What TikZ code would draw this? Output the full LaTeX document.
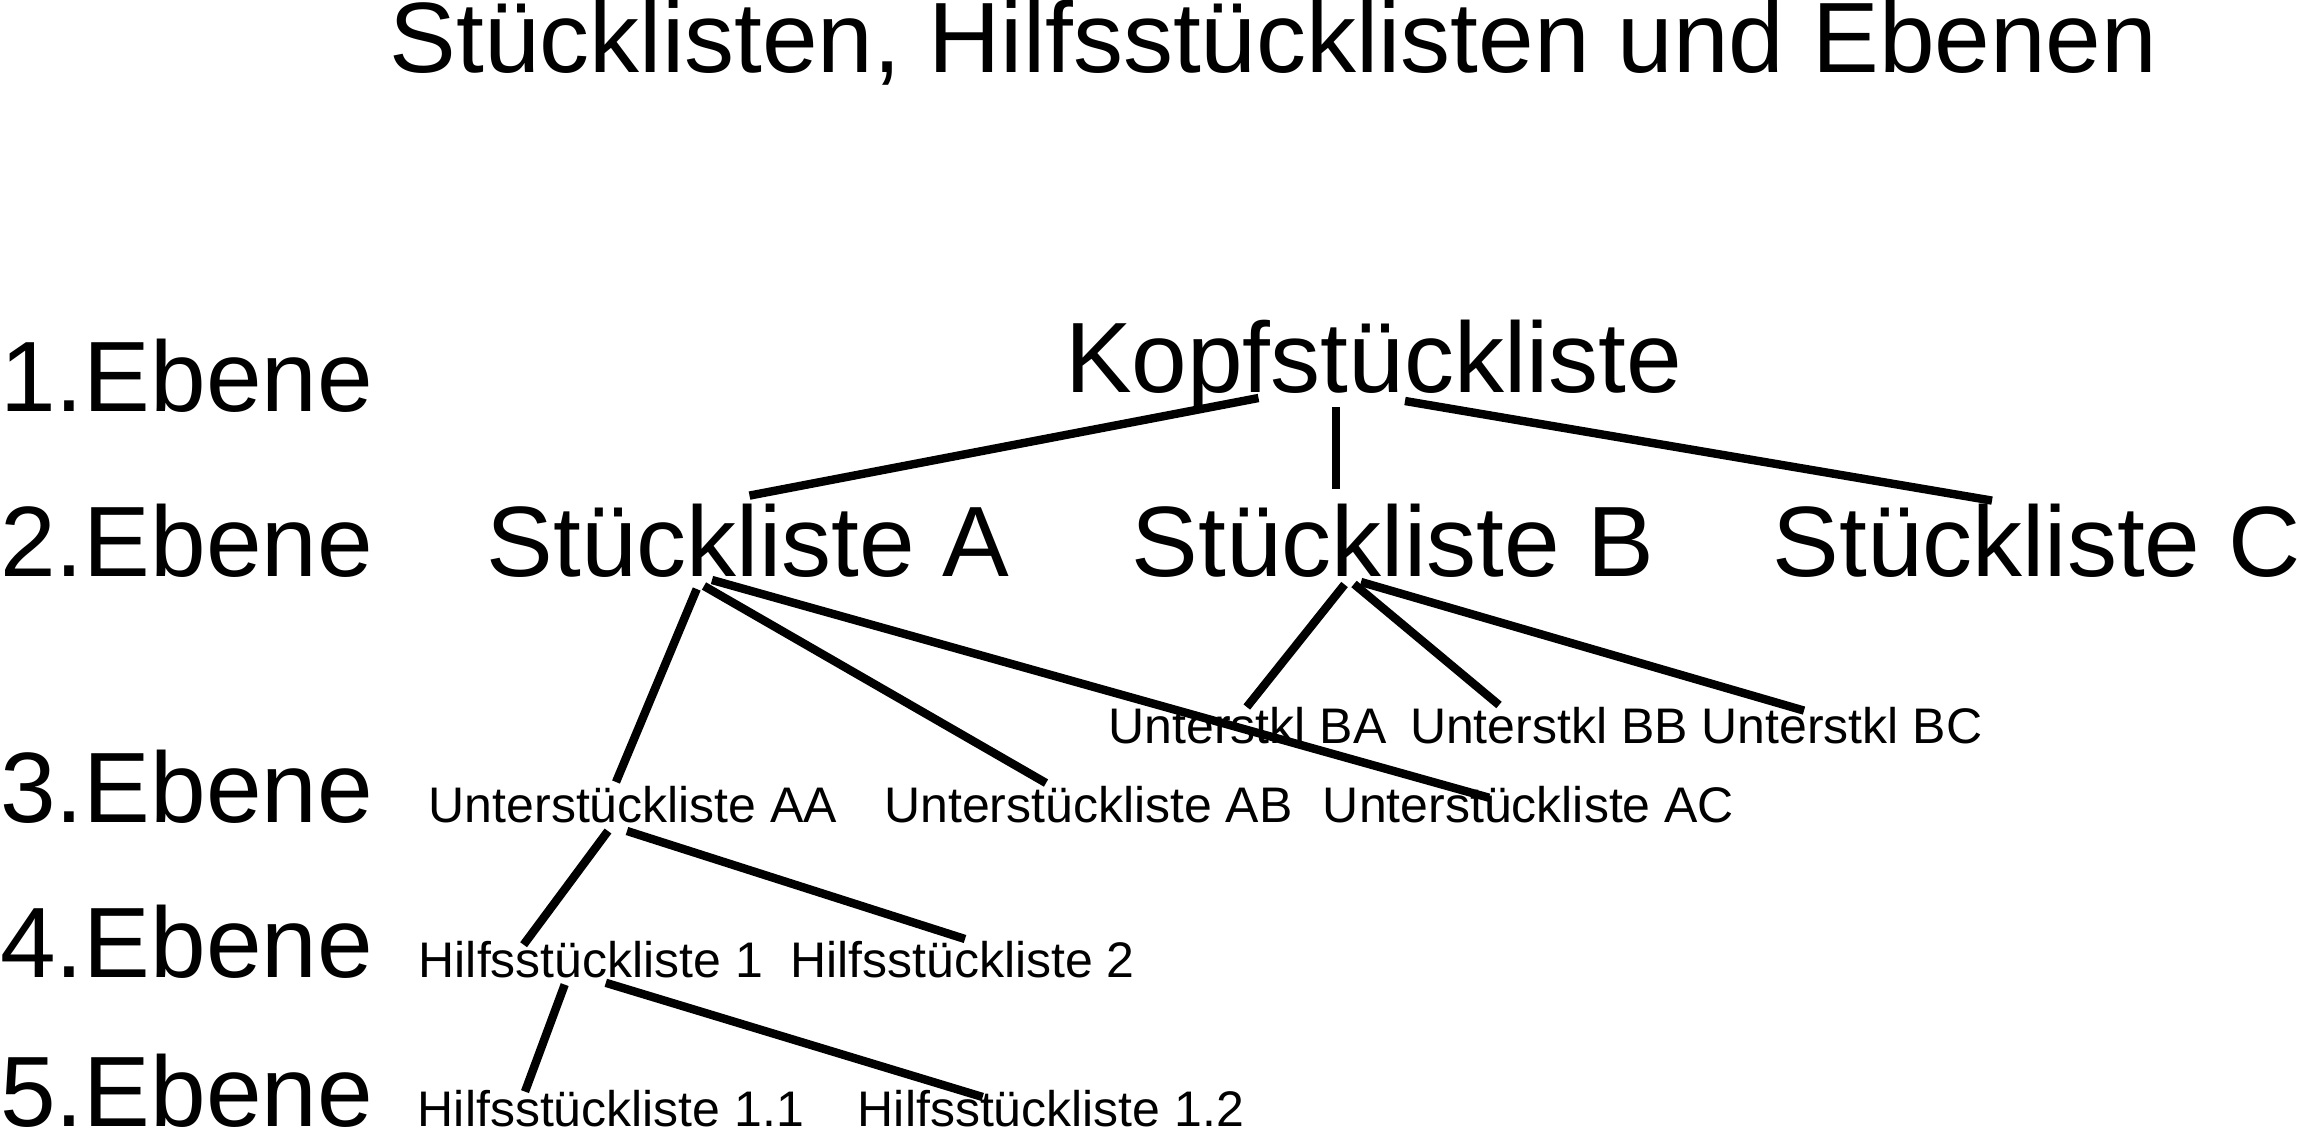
\documentclass[tikz,border=0pt]{standalone}
\usepackage{fontspec}
\setmainfont{Liberation Sans}
\begin{document}
\begin{tikzpicture}[x=0.5pt,y=-0.5pt,
  big/.style={font=\fontsize{50}{60}\selectfont, inner sep=0pt, anchor=base},
  small/.style={font=\fontsize{25}{30}\selectfont, inner sep=0pt, anchor=base},
  level/.style={big, anchor=base west},
  link/.style={line width=4.2pt, line cap=butt}]
\useasboundingbox[fill=white] (0,0) rectangle (2300,1129);
% title
\node[big] (title) at (1273.5,73) {Stücklisten, Hilfsstücklisten und Ebenen};
% level labels
\node[level] (e1) at (0,411) {1.Ebene};
\node[level] (e2) at (0,576) {2.Ebene};
\node[level] (e3) at (0,822) {3.Ebene};
\node[level] (e4) at (0,977) {4.Ebene};
\node[level] (e5) at (0,1126) {5.Ebene};
% tree nodes
\node[big] (K) at (1373.5,392) {Kopfstückliste};
\node[big] (A) at (748,576) {Stückliste A};
\node[big] (B) at (1393,576) {Stückliste B};
\node[big] (C) at (2036.5,576) {Stückliste C};
\node[small] (BA) at (1247.5,743) {Unterstkl BA};
\node[small] (BB) at (1549,743) {Unterstkl BB};
\node[small] (BC) at (1842,743) {Unterstkl BC};
\node[small] (AA) at (633,822) {Unterstückliste AA};
\node[small] (AB) at (1088.5,822) {Unterstückliste AB};
\node[small] (AC) at (1528.5,822) {Unterstückliste AC};
\node[small] (H1) at (591,977) {Hilfsstückliste 1};
\node[small] (H2) at (962.5,977) {Hilfsstückliste 2};
\node[small] (H11) at (611,1126) {Hilfsstückliste 1.1};
\node[small] (H12) at (1051,1126) {Hilfsstückliste 1.2};
% connectors
\draw[link] ([shift={(-115,6)}]K.base) -- ([shift={(1.5,-80.4)}]A.base);
\draw[link] ([shift={(-37.5,15)}]K.base) -- ([shift={(-57,-87)}]B.base);
\draw[link] ([shift={(31.5,9)}]K.base) -- ([shift={(-44.5,-75.4)}]C.base);
\draw[link] ([shift={(-51.3,13)}]A.base) -- ([shift={(-17,-40)}]AA.base);
\draw[link] ([shift={(-44,10)}]A.base) -- ([shift={(-42.5,-39)}]AB.base);
\draw[link] ([shift={(-36,4)}]A.base) -- ([shift={(-39.5,-24.3)}]AC.base);
\draw[link] ([shift={(-48.5,8.5)}]B.base) -- ([shift={(-0.7,-36)}]BA.base);
\draw[link] ([shift={(-39,8)}]B.base) -- ([shift={(-50,-38)}]BB.base);
\draw[link] ([shift={(-32,6)}]B.base) -- ([shift={(-38,-32.4)}]BC.base);
\draw[link] ([shift={(-25,9)}]AA.base) -- ([shift={(-67.4,-32.3)}]H1.base);
\draw[link] ([shift={(-6,9)}]AA.base) -- ([shift={(2.5,-38)}]H2.base);
\draw[link] ([shift={(-26.3,7.6)}]H1.base) -- ([shift={(-86,-34.4)}]H11.base);
\draw[link] ([shift={(14.8,5.8)}]H1.base) -- ([shift={(-68.3,-29)}]H12.base);
\end{tikzpicture}
\end{document}
